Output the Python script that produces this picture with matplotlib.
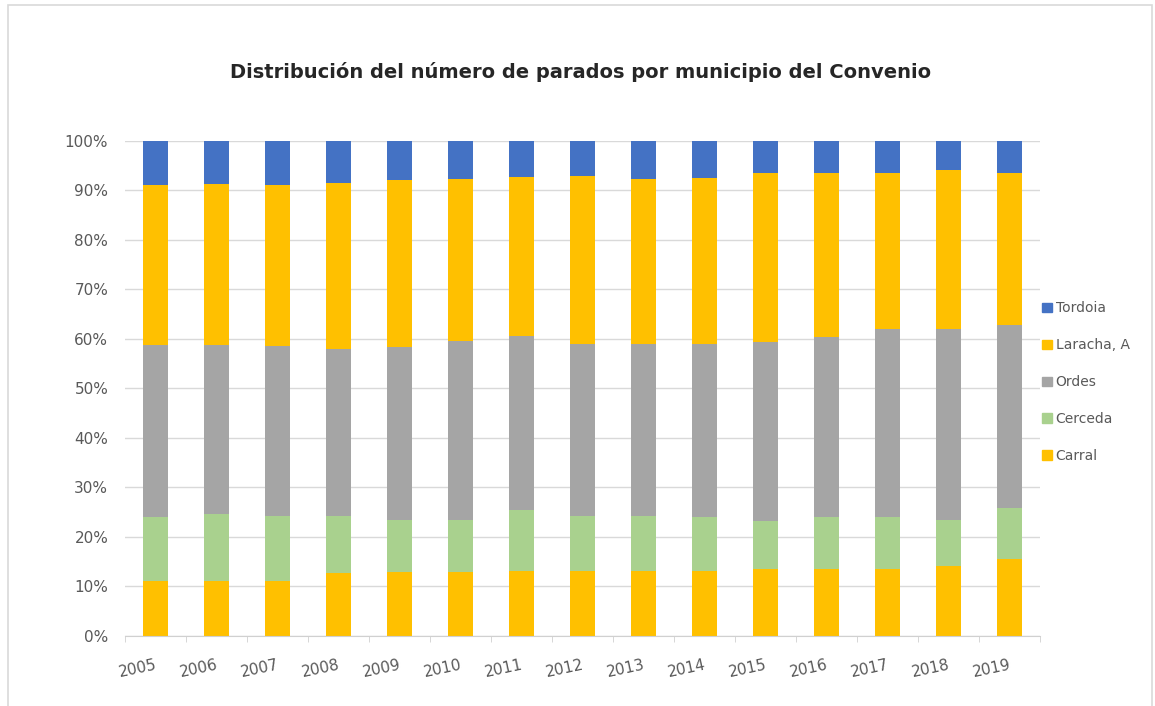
import matplotlib
matplotlib.use("Agg")
import matplotlib.pyplot as plt
from matplotlib.patches import Rectangle, Patch
from matplotlib.ticker import FuncFormatter, FixedLocator
import numpy as np

# Datos (porcentaje de parados por municipio)
anios = ["2005", "2006", "2007", "2008", "2009", "2010", "2011", "2012",
         "2013", "2014", "2015", "2016", "2017", "2018", "2019"]
carral = [11.2, 11.2, 11.2, 12.7, 12.9, 12.9, 13.2, 13.2, 13.2, 13.2, 13.6, 13.6, 13.6, 14.1, 15.6]
cerceda = [12.9, 13.5, 13.1, 11.6, 10.6, 10.6, 12.3, 11.1, 11.1, 10.8, 9.7, 10.4, 10.4, 9.4, 10.3]
ordes = [34.7, 34.1, 34.3, 33.7, 34.8, 36.0, 35.2, 34.7, 34.7, 35.0, 36.0, 36.3, 38.0, 38.5, 36.9]
laracha = [32.3, 32.5, 32.5, 33.6, 33.8, 32.9, 32.1, 33.9, 33.4, 33.6, 34.3, 33.3, 31.6, 32.1, 30.8]
tordoia = [8.9, 8.7, 8.9, 8.4, 7.9, 7.6, 7.2, 7.1, 7.6, 7.4, 6.4, 6.4, 6.4, 5.9, 6.4]

series = [("Carral", carral, "#FFC000"),
          ("Cerceda", cerceda, "#A9D18E"),
          ("Ordes", ordes, "#A5A5A5"),
          ("Laracha, A", laracha, "#FFC000"),
          ("Tordoia", tordoia, "#4472C4")]

total = np.sum([s[1] for s in series], axis=0)

fig = plt.figure(figsize=(11.55, 7.06), dpi=100)
ax = fig.add_axes([0.1082, 0.0992, 0.7922, 0.7011])

x = np.arange(len(anios))
base = np.zeros(len(anios))
for nombre, valores, color in series:
    frac = np.array(valores) / total
    ax.bar(x, frac, bottom=base, width=0.4, color=color, label=nombre, zorder=3)
    base += frac

ax.set_xlim(-0.5, len(anios) - 0.5)
ax.set_ylim(0, 1)
ax.set_yticks(np.arange(0, 1.01, 0.1))
ax.yaxis.set_major_formatter(FuncFormatter(lambda v, p: f"{v*100:.0f}%"))
ax.grid(axis="y", color="#D9D9D9", linewidth=1, zorder=0)

for lado in ["top", "right", "left"]:
    ax.spines[lado].set_visible(False)
ax.spines["bottom"].set_color("#D0D0D0")
ax.spines["bottom"].set_zorder(4)

ax.tick_params(axis="y", length=0, pad=12, labelsize=11, labelcolor="#595959")
ax.set_xticks(x)
ax.set_xticklabels(anios, rotation=12, ha="right", rotation_mode="anchor",
                   fontsize=11, color="#595959")
ax.tick_params(axis="x", length=0, pad=15)
ax.xaxis.set_minor_locator(FixedLocator(np.arange(-0.5, len(anios), 1)))
ax.tick_params(axis="x", which="minor", length=4, color="#D0D0D0")

fig.text(0.503, 0.898, "Distribución del número de parados por municipio del Convenio",
         ha="center", va="center", fontsize=14, fontweight="bold", color="#262626")

handles = [Patch(color=c) for _, _, c in reversed(series)]
labels = [n for n, _, _ in reversed(series)]
fig.legend(handles, labels, loc="upper left", bbox_to_anchor=(0.902, 0.573),
           frameon=False, fontsize=10, labelcolor="#595959",
           handlelength=0.7, handleheight=0.7, handletextpad=0.3,
           labelspacing=1.65, borderpad=0, borderaxespad=0)

# Borde del área del gráfico
fig.patches.append(Rectangle((8 / 1155, -0.01), 1144 / 1155, 1.01 - 5 / 706,
                             transform=fig.transFigure, fill=False,
                             edgecolor="#D9D9D9", linewidth=1.2))

fig.savefig("out.png", dpi=100)
